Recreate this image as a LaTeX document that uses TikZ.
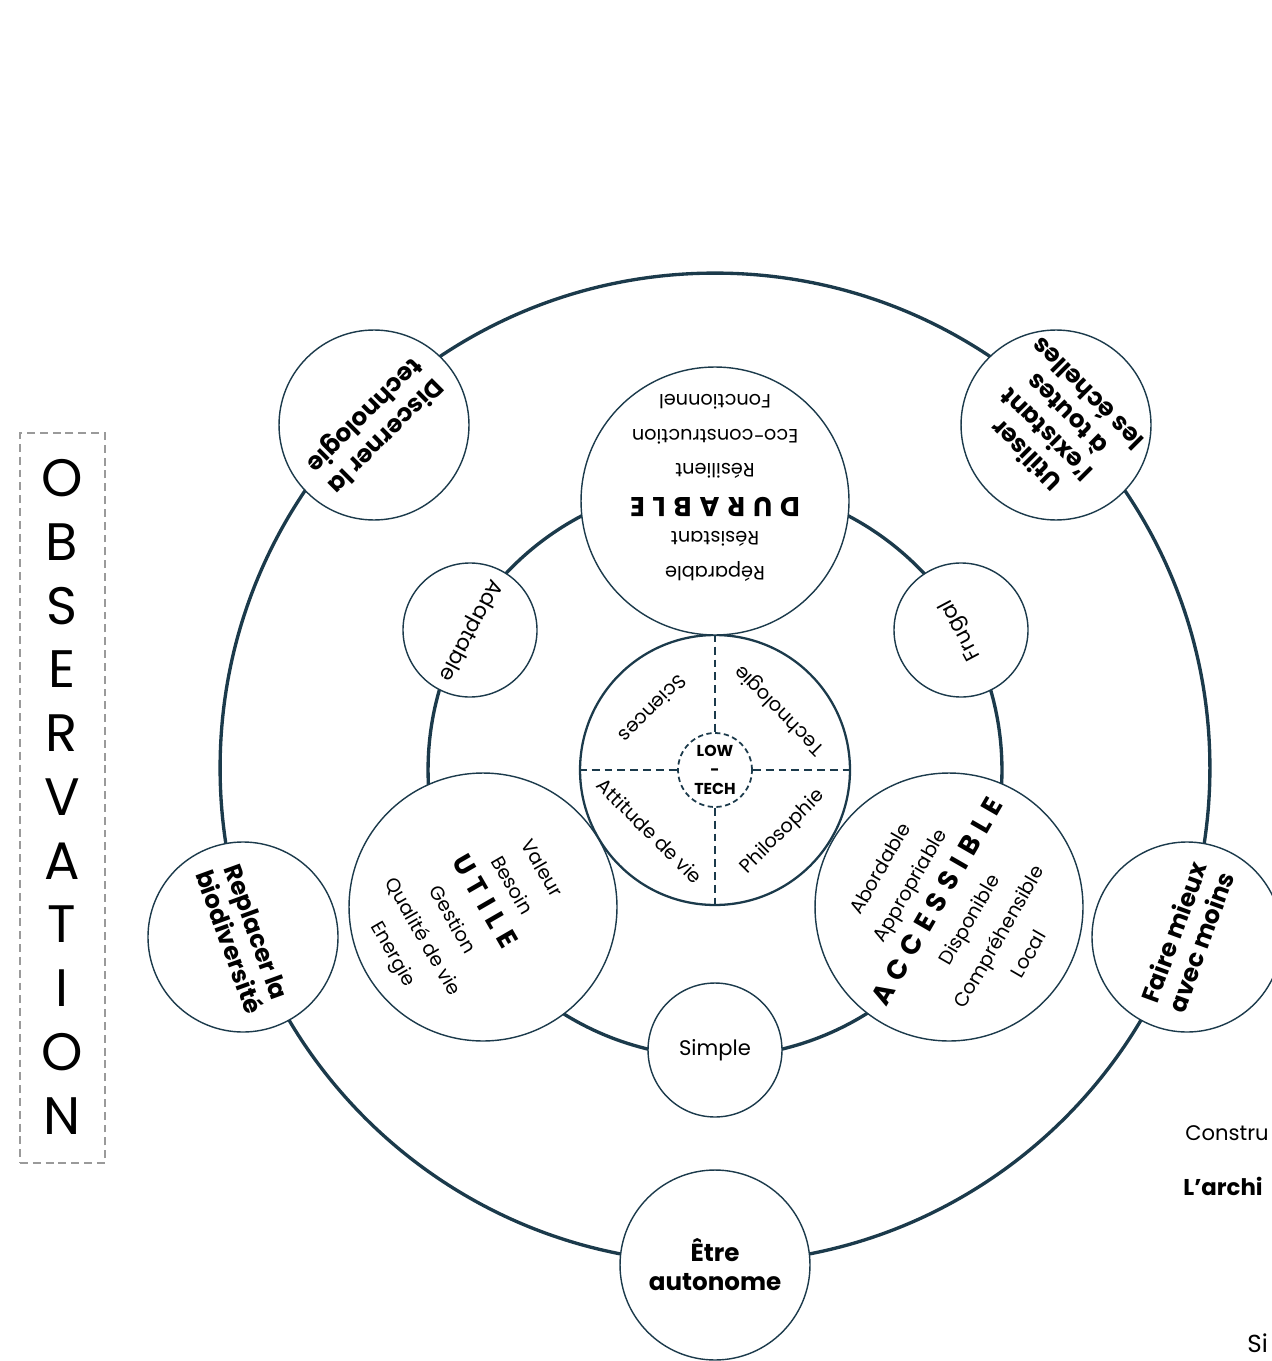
\documentclass[tikz,border=0pt]{standalone}
\usepackage{fontspec}
\setmainfont{Poppins}
\usepackage{tikz}
\usetikzlibrary{positioning}
\definecolor{Navy}{HTML}{1B3A4B}
\definecolor{Frame}{HTML}{9A9A9A}
\newcommand\spaced[1]{\spacedaux#1\relax\unskip}
\def\spacedaux#1{\ifx\relax#1\else#1\hspace{4.5pt}\expandafter\spacedaux\fi}

\begin{document}
\begin{tikzpicture}[x=0.02cm,y=-0.02cm,
    ring/.style={circle,draw=Navy,line width=1.9pt,inner sep=0pt},
    bubble/.style={circle,draw=Navy,fill=white,line width=0.8pt,inner sep=0pt,align=center},
    goal/.style={bubble,minimum size=3.8cm,font=\bfseries\fontsize{14}{16.5}\selectfont},
    pillar/.style={bubble,minimum size=5.36cm},
    trait/.style={bubble,minimum size=2.68cm,font=\fontsize{12}{14}\selectfont},
    words/.style={align=center,inner sep=0pt,font=\fontsize{11}{19.5}\selectfont},
    field/.style={inner sep=0pt,font=\fontsize{11}{13}\selectfont},
    quarter/.style={draw=Navy,line width=1.1pt,dash pattern=on 4.5pt off 2.8pt},
    edgetext/.style={anchor=base west,inner sep=0pt}]
  \useasboundingbox (0,0) rectangle (1271,1361);

  \node[draw=Frame,line width=0.9pt,dash pattern=on 4.5pt off 2.8pt,
        minimum width=1.7cm,minimum height=14.6cm] (obsbox) at (62.5,798) {};
  \foreach \l [count=\i] in {O,B,S,E,R,V,A,T,I,O,N}
    \node[font=\fontsize{30}{30}\selectfont] (obs\i) at (62,{478+63.8*(\i-1)}) {\l};

  \node[ring,minimum size=19.8cm] (outer) at (715,768) {};
  \node[ring,minimum size=11.48cm] (middle) at (715,770) {};

  \node[circle,draw=Navy,fill=white,line width=1.3pt,minimum size=5.4cm] (lowtech) at (715,770) {};
  \node[circle,draw=Navy,line width=1pt,dash pattern=on 3pt off 2pt,minimum size=1.48cm,
        inner sep=0pt,align=center,font=\bfseries\fontsize{9}{11}\selectfont] (core) at (715,770) {LOW\\-\\TECH};
  \draw[quarter] (lowtech.north) -- (core.north);
  \draw[quarter] (core.south) -- (lowtech.south);
  \draw[quarter] (lowtech.west) -- (core.west);
  \draw[quarter] (core.east) -- (lowtech.east);
  \node[field,rotate=225] (sci) at (653,709) {Sciences};
  \node[field,rotate=135] (techno) at (780,710) {Technologie};
  \node[field,rotate=-45] (attitude) at (650,831) {Attitude de vie};
  \node[field,rotate=45] (philo) at (783,832) {Philosophie};

  \node[pillar] (durable) at (715,501) {};
  \node[words,rotate=180] (durtext) at (715,488)
    {Réparable\\Résistant\\{\bfseries\fontsize{15.5}{19.5}\selectfont\spaced{DURABLE}}\\Résilient\\Eco-construction\\Fonctionnel};
  \node[pillar] (utile) at (483,907) {};
  \node[words,rotate=-60] (utiletext) at (466,912)
    {Valeur\\Besoin\\{\bfseries\fontsize{15.5}{19.5}\selectfont\spaced{UTILE}}\\Gestion\\Qualité de vie\\Energie};
  \node[pillar] (access) at (949,907) {};
  \node[words,rotate=60] (accesstext) at (954,911)
    {Abordable\\Appropriable\\{\bfseries\fontsize{15.5}{19.5}\selectfont\spaced{ACCESSIBLE}}\\Disponible\\Compréhensible\\Local};

  \node[trait,rotate=-118] (adapt) at (470,630) {Adaptable};
  \node[trait,rotate=118] (frugal) at (961,630) {Frugal};
  \node[trait] (simple) at (715,1050) {Simple};

  \node[goal,rotate=225] (discern) at (374,425) {Discerner la\\technologie};
  \node[goal,rotate=135] (existant) at (1056,425) {Utiliser\\l’existant\\à toutes\\les échelles};
  \node[goal,rotate=-70] (biodiv) at (243,937) {Replacer la\\biodiversité};
  \node[goal,rotate=70] (moins) at (1187,937) {Faire mieux\\avec moins};
  \node[goal] (autonome) at (715,1265) {Être\\autonome};

  \node[edgetext,font=\fontsize{12}{14}\selectfont] (constru) at (1185,1140) {Constru};
  \node[edgetext,font=\bfseries\fontsize{13}{15}\selectfont] (archi) at (1183,1195) {L’archi};
  \node[edgetext,font=\fontsize{14}{16}\selectfont] (sim) at (1247,1352) {Si};
\end{tikzpicture}
\end{document}
